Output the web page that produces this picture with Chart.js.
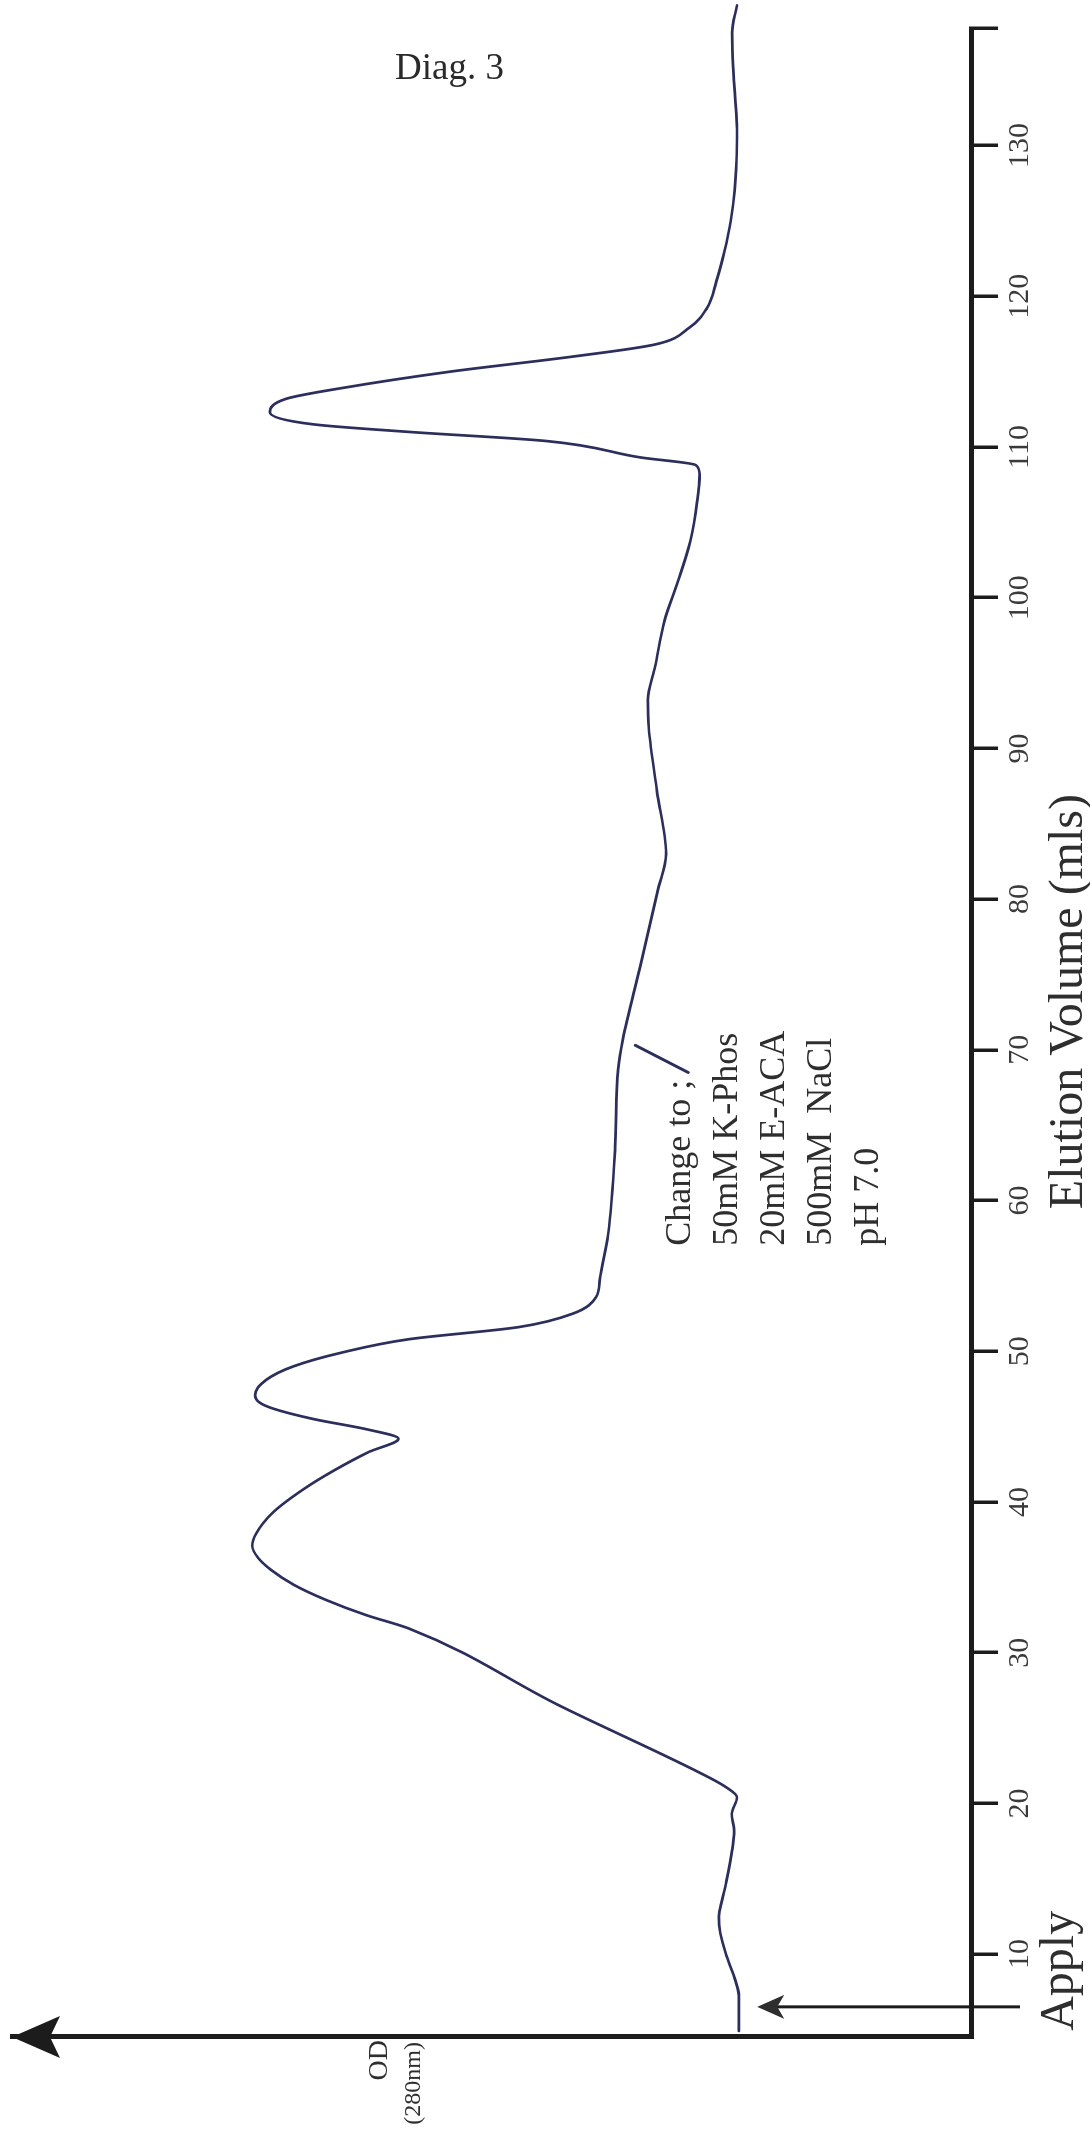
<!DOCTYPE html>
<html>
<head>
<meta charset="utf-8">
<title>Diag. 3 – Elution profile</title>
<script src="https://cdn.jsdelivr.net/npm/chart.js@4.4.1/dist/chart.umd.min.js"></script>
<style>
  html, body { margin: 0; padding: 0; background: #ffffff; overflow: hidden; }
  body { width: 1090px; height: 2138px; position: relative; }
  /* the plot is laid out landscape and turned a quarter turn anticlockwise */
  #plot {
    position: absolute; left: 0; top: 0;
    width: 2138px; height: 1090px;
    transform-origin: 0 0;
    transform: translate(0, 2138px) rotate(-90deg);
  }
  #plot canvas { display: block; }
  #caption {
    position: absolute; left: 395px; top: 48px;
    font: 37px/37px "Liberation Serif", "Times New Roman", serif;
    color: #2a2a2a; white-space: nowrap;
  }
</style>
</head>
<body>
<div id="plot"><canvas id="c" width="2138" height="1090"></canvas></div>
<div id="caption">Diag. 3</div>
<script>
// Elution volume (mls) of each traced point
const volume = [
  4.9, 7.2, 8.3, 9.8, 11.4, 12.5, 13.6, 14.7, 16.9, 18.2,
  19.3, 20.4, 21.1, 21.7, 26.5, 31.6, 32.5, 33.5, 34.5, 35.5,
  36.3, 37.1, 37.9, 39.3, 41.0, 42.1, 43.3, 44.2, 44.8, 45.5,
  46.2, 46.6, 47.1, 48.1, 49.0, 49.9, 50.8, 51.6, 52.5, 53.6,
  54.8, 57.7, 63.6, 68.7, 70.7, 75.5, 80.6, 83.0, 87.2, 91.4,
  93.2, 95.4, 98.5, 101.1, 103.8, 106.4, 108.2, 108.8, 109.3, 110.4,
  111.0, 111.5, 112.3, 113.2, 113.9, 115.0, 116.0, 116.8, 117.9, 119.2,
  121.0, 123.0, 125.0, 127.0, 129.0, 131.1, 133.2, 135.2, 137.5, 139.3
];
// OD at 280 nm for each point
const absorbance = [
  0.484, 0.484, 0.492, 0.509, 0.523, 0.526, 0.519, 0.511, 0.498, 0.494,
  0.499, 0.488, 0.512, 0.545, 0.859, 1.172, 1.262, 1.345, 1.412, 1.460,
  1.487, 1.499, 1.491, 1.456, 1.385, 1.328, 1.257, 1.194, 1.257, 1.371,
  1.456, 1.484, 1.493, 1.470, 1.413, 1.314, 1.172, 0.944, 0.830, 0.782,
  0.774, 0.757, 0.742, 0.736, 0.726, 0.690, 0.653, 0.636, 0.655, 0.672,
  0.674, 0.659, 0.639, 0.611, 0.585, 0.571, 0.566, 0.574, 0.688, 0.887,
  1.172, 1.371, 1.462, 1.428, 1.314, 1.086, 0.830, 0.659, 0.588, 0.551,
  0.531, 0.514, 0.501, 0.493, 0.489, 0.488, 0.492, 0.496, 0.498, 0.488
];
// labelled ticks on the volume axis
const volumeTicks = [10, 20, 30, 40, 50, 60, 70, 80, 90, 100, 110, 120, 130];
const volumeRange = [4.5, 137.8];
const odRange = [0, 2];
// sample applied at this volume
const applyVolume = 6.5;
const applyArrowOD = 0.446;
// buffer change note
const bufferChange = ['Change to ;', '50mM K-Phos', '20mM E-ACA', '500mM  NaCl', 'pH 7.0'];
const bufferChangeMark = { from: [70.3, 0.70], to: [68.5, 0.59] };

const INK = '#1c1c1c';
const TEXT = '#2e2e2e';
const TRACE = '#2c2e5c';
const SERIF = '"Liberation Serif", "Times New Roman", serif';

const annotations = {
  id: 'annotations',
  afterDraw(chart) {
    const { ctx, chartArea, scales: { x, y } } = chart;
    ctx.save();

    // arrow head closing the OD axis
    const ax = chartArea.left, top = chartArea.top;
    ctx.fillStyle = INK;
    ctx.beginPath();
    ctx.moveTo(ax, top);
    ctx.lineTo(ax - 21, top + 48);
    ctx.lineTo(ax, top + 38);
    ctx.lineTo(ax + 21, top + 48);
    ctx.closePath();
    ctx.fill();

    // OD axis label
    ctx.fillStyle = TEXT;
    ctx.textAlign = 'right';
    ctx.textBaseline = 'alphabetic';
    ctx.font = '28px ' + SERIF;
    ctx.fillText('OD', ax - 3, top + 375);
    ctx.font = '24px ' + SERIF;
    ctx.fillText('(280nm)', ax - 5, top + 408);

    // volume axis title
    ctx.textAlign = 'center';
    ctx.font = '48px ' + SERIF;
    ctx.fillText('Elution Volume (mls)', x.getPixelForValue(73.2), chartArea.bottom + 111);

    // "Apply" arrow
    const apx = x.getPixelForValue(applyVolume);
    const tipY = y.getPixelForValue(applyArrowOD);
    ctx.strokeStyle = INK;
    ctx.lineWidth = 3;
    ctx.beginPath();
    ctx.moveTo(apx, chartArea.bottom + 49);
    ctx.lineTo(apx, tipY + 16);
    ctx.stroke();
    ctx.beginPath();
    ctx.moveTo(apx, tipY);
    ctx.lineTo(apx - 12, tipY + 27);
    ctx.lineTo(apx, tipY + 20);
    ctx.lineTo(apx + 12, tipY + 27);
    ctx.closePath();
    ctx.fill();

    ctx.fillStyle = TEXT;
    ctx.textAlign = 'left';
    ctx.font = '48px ' + SERIF;
    ctx.fillText('Apply', apx - 24, chartArea.bottom + 102);

    // buffer change marker and note
    ctx.strokeStyle = TRACE;
    ctx.lineWidth = 3;
    ctx.lineCap = 'round';
    ctx.beginPath();
    ctx.moveTo(x.getPixelForValue(bufferChangeMark.from[0]), y.getPixelForValue(bufferChangeMark.from[1]));
    ctx.lineTo(x.getPixelForValue(bufferChangeMark.to[0]), y.getPixelForValue(bufferChangeMark.to[1]));
    ctx.stroke();

    ctx.fillStyle = TEXT;
    ctx.font = '36px ' + SERIF;
    const noteX = x.getPixelForValue(57.0);
    const noteY = y.getPixelForValue(0.586);
    bufferChange.forEach((line, i) => ctx.fillText(line, noteX, noteY + i * 47));

    ctx.restore();
  }
};

new Chart(document.getElementById('c'), {
  type: 'line',
  data: {
    datasets: [{
      data: volume.map((v, i) => ({ x: v, y: absorbance[i] })),
      borderColor: TRACE,
      borderWidth: 2.7,
      pointRadius: 0,
      pointHoverRadius: 0,
      cubicInterpolationMode: 'monotone',
      fill: false,
      clip: false,
      borderJoinStyle: 'round',
      borderCapStyle: 'round'
    }]
  },
  options: {
    responsive: false,
    animation: false,
    devicePixelRatio: 1,
    events: [],
    layout: { padding: { top: 12, right: 28, bottom: 0, left: 0 } },
    plugins: {
      legend: { display: false },
      tooltip: { enabled: false },
      title: { display: false }
    },
    scales: {
      x: {
        type: 'linear',
        position: 'bottom',
        min: volumeRange[0],
        max: volumeRange[1],
        afterBuildTicks: s => {
          s.ticks = volumeTicks.concat([volumeRange[1]]).map(v => ({ value: v }));
        },
        afterFit: s => { s.height = 119; s.paddingLeft = 0; s.paddingRight = 0; },
        ticks: {
          autoSkip: false,
          maxRotation: 0,
          minRotation: 0,
          padding: 4,
          color: '#3a3a3a',
          font: { family: SERIF, size: 30, lineHeight: 1.2 },
          callback: v => volumeTicks.includes(v) ? String(v) : ''
        },
        grid: {
          display: true,
          drawOnChartArea: false,
          drawTicks: true,
          tickLength: 27,
          tickWidth: 3.5,
          tickColor: INK,
          color: INK,
          lineWidth: 3.5
        },
        border: { display: true, width: 5, color: INK },
        title: { display: false }
      },
      y: {
        type: 'linear',
        position: 'left',
        min: odRange[0],
        max: odRange[1],
        afterFit: s => { s.width = 101; s.paddingTop = 0; s.paddingBottom = 0; },
        ticks: { display: false },
        grid: { display: false, drawTicks: false },
        border: { display: true, width: 5, color: INK }
      }
    }
  },
  plugins: [annotations]
});
</script>
</body>
</html>
